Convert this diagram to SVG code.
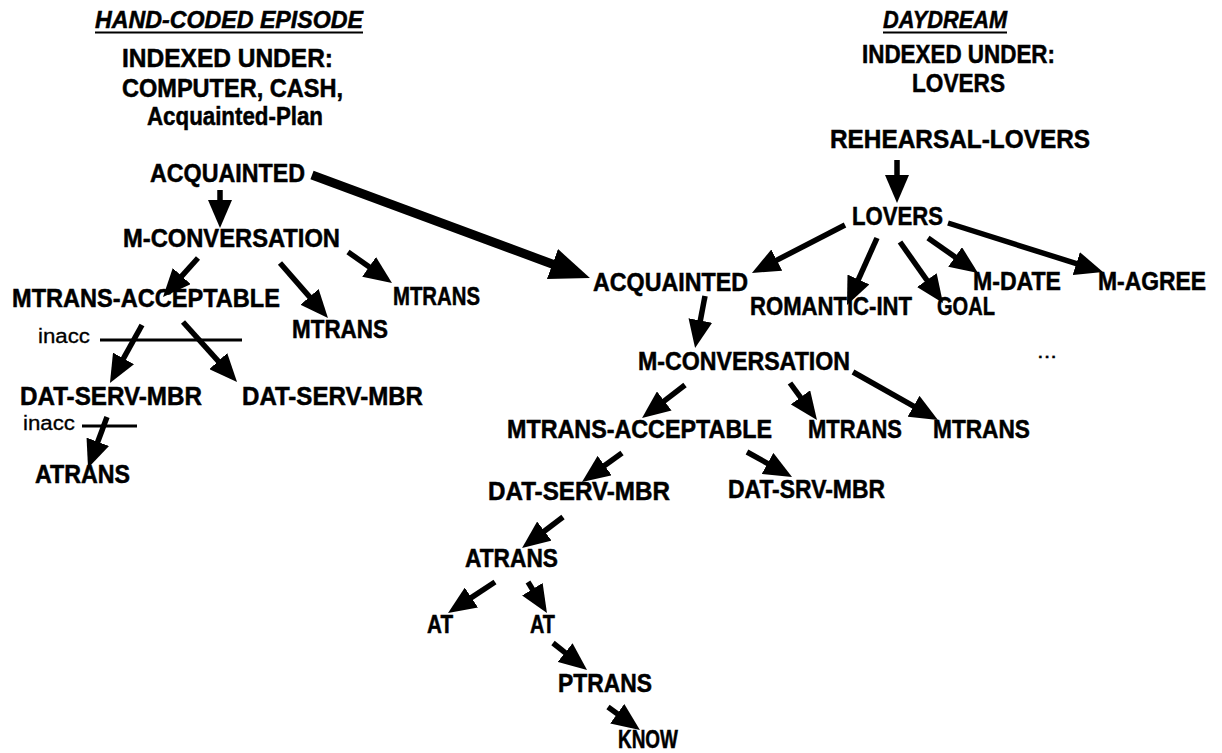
<svg xmlns="http://www.w3.org/2000/svg" width="1222" height="753" viewBox="0 0 1222 753">
  <style>
    text { font-family: "Liberation Sans", Arial, sans-serif; font-weight: bold; font-size: 25px; fill: #000; stroke: #000; stroke-width: 0.5; }
    .hdr { font-style: italic; font-size: 23px; }
    .idx { font-size: 25px; }
    .note { font-weight: normal; font-size: 20px; stroke-width: 0.3; }
    .edge { stroke: #000; stroke-width: 5.5; fill: none; marker-end: url(#head); }
    .big { stroke: #000; stroke-width: 9; fill: none; marker-end: url(#bighead); }
    .rule { stroke: #000; stroke-width: 3; }
  </style>
  <defs>
    <marker id="head" markerUnits="userSpaceOnUse" markerWidth="28" markerHeight="24" refX="6" refY="12" orient="auto" viewBox="0 0 28 24">
      <path d="M0,0 L28,12 L0,24 z" fill="#000"/>
    </marker>
    <marker id="bighead" markerUnits="userSpaceOnUse" markerWidth="40" markerHeight="32" refX="4" refY="16" orient="auto" viewBox="0 0 40 32">
      <path d="M0,0 L40,16 L0,32 z" fill="#000"/>
    </marker>
  </defs>
  <rect width="1222" height="753" fill="#fff"/>

  <!-- headings -->
  <g id="hand-coded-header">
    <text class="hdr" x="95" y="28" textLength="268" lengthAdjust="spacingAndGlyphs">HAND-CODED EPISODE</text>
    <line x1="95" y1="32.5" x2="363" y2="32.5" stroke="#000" stroke-width="2"/>
    <text class="idx" x="122" y="67" textLength="211" lengthAdjust="spacingAndGlyphs">INDEXED UNDER:</text>
    <text class="idx" x="122" y="97" textLength="221" lengthAdjust="spacingAndGlyphs">COMPUTER, CASH,</text>
    <text class="idx" x="147" y="125" textLength="176" lengthAdjust="spacingAndGlyphs">Acquainted-Plan</text>
  </g>
  <g id="daydream-header">
    <text class="hdr" x="883" y="28" textLength="124" lengthAdjust="spacingAndGlyphs">DAYDREAM</text>
    <line x1="883" y1="32.5" x2="1007" y2="32.5" stroke="#000" stroke-width="2"/>
    <text x="862" y="63" textLength="193" lengthAdjust="spacingAndGlyphs">INDEXED UNDER:</text>
    <text x="912" y="92" textLength="93" lengthAdjust="spacingAndGlyphs">LOVERS</text>
  </g>

  <!-- hand-coded episode tree -->
  <g id="l-acquainted"><text x="150" y="182" textLength="155" lengthAdjust="spacingAndGlyphs">ACQUAINTED</text></g>
  <g id="l-mconv"><text x="123" y="247" textLength="217" lengthAdjust="spacingAndGlyphs">M-CONVERSATION</text></g>
  <g id="l-mtrans-acc"><text x="12" y="307" textLength="268" lengthAdjust="spacingAndGlyphs">MTRANS-ACCEPTABLE</text></g>
  <g id="l-mtrans-a"><text x="292" y="338" textLength="96" lengthAdjust="spacingAndGlyphs">MTRANS</text></g>
  <g id="l-mtrans-b"><text x="393" y="305" textLength="87" lengthAdjust="spacingAndGlyphs">MTRANS</text></g>
  <g id="l-inacc-1">
    <text class="note" x="38" y="343" textLength="52" lengthAdjust="spacingAndGlyphs">inacc</text>
    <line class="rule" x1="100" y1="340" x2="242" y2="340"/>
  </g>
  <g id="l-dat-a"><text x="20" y="405" textLength="182" lengthAdjust="spacingAndGlyphs">DAT-SERV-MBR</text></g>
  <g id="l-dat-b"><text x="242" y="405" textLength="181" lengthAdjust="spacingAndGlyphs">DAT-SERV-MBR</text></g>
  <g id="l-inacc-2">
    <text class="note" x="23" y="430" textLength="52" lengthAdjust="spacingAndGlyphs">inacc</text>
    <line class="rule" x1="82" y1="426" x2="137" y2="426"/>
  </g>
  <g id="l-atrans"><text x="35" y="483" textLength="95" lengthAdjust="spacingAndGlyphs">ATRANS</text></g>

  <!-- daydream tree -->
  <g id="r-rehearsal"><text x="830" y="148" textLength="260" lengthAdjust="spacingAndGlyphs">REHEARSAL-LOVERS</text></g>
  <g id="r-lovers"><text x="852" y="225" textLength="91" lengthAdjust="spacingAndGlyphs">LOVERS</text></g>
  <g id="r-acquainted"><text x="593" y="291" textLength="155" lengthAdjust="spacingAndGlyphs">ACQUAINTED</text></g>
  <g id="r-romantic"><text x="750" y="315" textLength="162" lengthAdjust="spacingAndGlyphs">ROMANTIC-INT</text></g>
  <g id="r-goal"><text x="937" y="315" textLength="58" lengthAdjust="spacingAndGlyphs">GOAL</text></g>
  <g id="r-mdate"><text x="973" y="290" textLength="88" lengthAdjust="spacingAndGlyphs">M-DATE</text></g>
  <g id="r-magree"><text x="1098" y="290" textLength="108" lengthAdjust="spacingAndGlyphs">M-AGREE</text></g>
  <g id="r-more"><text class="note" x="1037" y="358" textLength="20" lengthAdjust="spacingAndGlyphs">...</text></g>
  <g id="r-mconv"><text x="638" y="370" textLength="212" lengthAdjust="spacingAndGlyphs">M-CONVERSATION</text></g>
  <g id="r-mtrans-acc"><text x="507" y="438" textLength="265" lengthAdjust="spacingAndGlyphs">MTRANS-ACCEPTABLE</text></g>
  <g id="r-mtrans-a"><text x="808" y="438" textLength="94" lengthAdjust="spacingAndGlyphs">MTRANS</text></g>
  <g id="r-mtrans-b"><text x="933" y="438" textLength="97" lengthAdjust="spacingAndGlyphs">MTRANS</text></g>
  <g id="r-dat-a"><text x="488" y="500" textLength="182" lengthAdjust="spacingAndGlyphs">DAT-SERV-MBR</text></g>
  <g id="r-dat-b"><text x="728" y="498" textLength="157" lengthAdjust="spacingAndGlyphs">DAT-SRV-MBR</text></g>
  <g id="r-atrans"><text x="465" y="567" textLength="93" lengthAdjust="spacingAndGlyphs">ATRANS</text></g>
  <g id="r-at-a"><text x="427" y="633" textLength="26" lengthAdjust="spacingAndGlyphs">AT</text></g>
  <g id="r-at-b"><text x="530" y="633" textLength="25" lengthAdjust="spacingAndGlyphs">AT</text></g>
  <g id="r-ptrans"><text x="558" y="692" textLength="94" lengthAdjust="spacingAndGlyphs">PTRANS</text></g>
  <g id="r-know"><text x="618" y="748" textLength="60" lengthAdjust="spacingAndGlyphs">KNOW</text></g>

  <!-- connectors -->
  <g id="connectors">
    <line class="big" x1="312" y1="175" x2="556.2" y2="265.5"/>

    <line class="edge" x1="220" y1="190" x2="220" y2="206"/>
    <line class="edge" x1="198" y1="258" x2="177.7" y2="280.6"/>
    <line class="edge" x1="280" y1="263" x2="313.5" y2="301.4"/>
    <line class="edge" x1="348" y1="252" x2="374" y2="270.3"/>
    <line class="edge" x1="142" y1="325" x2="120.6" y2="363.7"/>
    <line class="edge" x1="183" y1="322" x2="222.3" y2="365.6"/>
    <line class="edge" x1="107" y1="417" x2="95.7" y2="447.4"/>

    <line class="edge" x1="897" y1="160" x2="897" y2="181"/>
    <line class="edge" x1="845" y1="225" x2="771.5" y2="262.9"/>
    <line class="edge" x1="877" y1="238" x2="856" y2="284.9"/>
    <line class="edge" x1="900" y1="242" x2="930.3" y2="285"/>
    <line class="edge" x1="928" y1="238" x2="960" y2="260.4"/>
    <line class="edge" x1="948" y1="223" x2="1082" y2="265.4"/>
    <line class="edge" x1="705" y1="296" x2="699.2" y2="326.4"/>
    <line class="edge" x1="685" y1="385" x2="659.5" y2="404.6"/>
    <line class="edge" x1="790" y1="383" x2="804" y2="402.2"/>
    <line class="edge" x1="853" y1="372" x2="918.8" y2="409.2"/>
    <line class="edge" x1="622" y1="453" x2="599.8" y2="469.1"/>
    <line class="edge" x1="747" y1="452" x2="772.8" y2="466.3"/>
    <line class="edge" x1="563" y1="517" x2="539.6" y2="534.7"/>
    <line class="edge" x1="495" y1="582" x2="466.4" y2="600.9"/>
    <line class="edge" x1="528" y1="582" x2="535.5" y2="594.3"/>
    <line class="edge" x1="553" y1="643" x2="569.8" y2="656.3"/>
    <line class="edge" x1="608" y1="707" x2="622.1" y2="717.2"/>
  </g>
</svg>
